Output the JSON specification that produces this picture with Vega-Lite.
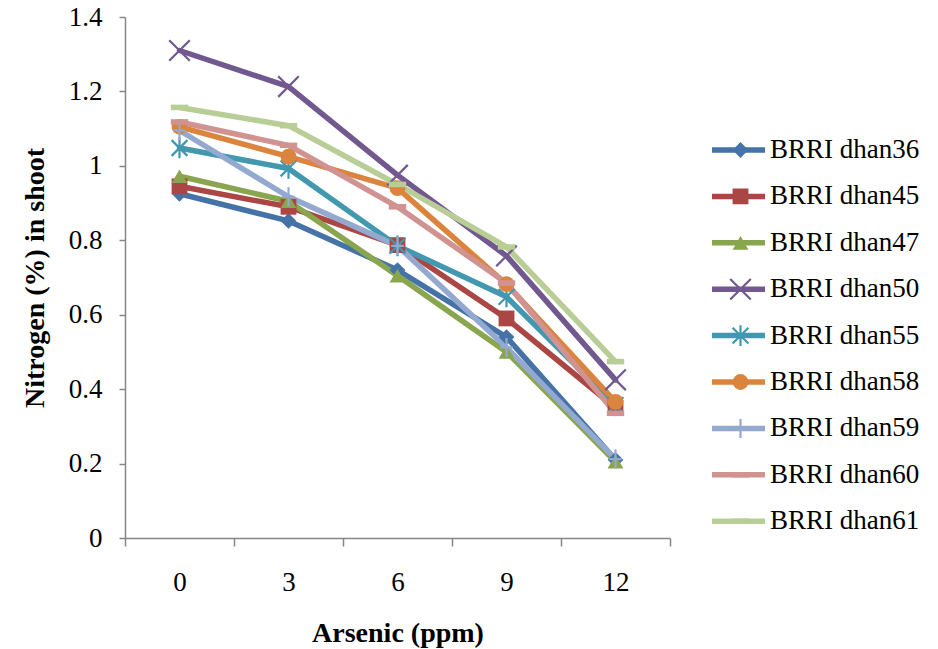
{
  "$schema": "https://vega.github.io/schema/vega-lite/v6.json",
  "autosize": {"type": "none"},
  "padding": {"left": 125, "top": 17, "right": 268, "bottom": 111},
  "width": 545,
  "height": 521,
  "background": "white",
  "config": {
    "view": {"stroke": null},
    "axis": {
      "grid": false,
      "domainColor": "#868686",
      "domainWidth": 1.5,
      "tickColor": "#868686",
      "tickWidth": 1.5,
      "labelFont": "Liberation Serif",
      "labelFontSize": 27,
      "labelColor": "black",
      "titleFont": "Liberation Serif",
      "titleFontSize": 28,
      "titleFontWeight": "bold",
      "titleColor": "black"
    }
  },
  "data": {
    "values": [
      {"variety": "BRRI dhan36", "arsenic": 0, "n": 0.925},
      {"variety": "BRRI dhan36", "arsenic": 3, "n": 0.852},
      {"variety": "BRRI dhan36", "arsenic": 6, "n": 0.72},
      {"variety": "BRRI dhan36", "arsenic": 9, "n": 0.54},
      {"variety": "BRRI dhan36", "arsenic": 12, "n": 0.21},
      {"variety": "BRRI dhan45", "arsenic": 0, "n": 0.945},
      {"variety": "BRRI dhan45", "arsenic": 3, "n": 0.89},
      {"variety": "BRRI dhan45", "arsenic": 6, "n": 0.787},
      {"variety": "BRRI dhan45", "arsenic": 9, "n": 0.59},
      {"variety": "BRRI dhan45", "arsenic": 12, "n": 0.35},
      {"variety": "BRRI dhan47", "arsenic": 0, "n": 0.972},
      {"variety": "BRRI dhan47", "arsenic": 3, "n": 0.905},
      {"variety": "BRRI dhan47", "arsenic": 6, "n": 0.705},
      {"variety": "BRRI dhan47", "arsenic": 9, "n": 0.5},
      {"variety": "BRRI dhan47", "arsenic": 12, "n": 0.205},
      {"variety": "BRRI dhan50", "arsenic": 0, "n": 1.31},
      {"variety": "BRRI dhan50", "arsenic": 3, "n": 1.213},
      {"variety": "BRRI dhan50", "arsenic": 6, "n": 0.975},
      {"variety": "BRRI dhan50", "arsenic": 9, "n": 0.758},
      {"variety": "BRRI dhan50", "arsenic": 12, "n": 0.425},
      {"variety": "BRRI dhan55", "arsenic": 0, "n": 1.048},
      {"variety": "BRRI dhan55", "arsenic": 3, "n": 0.993},
      {"variety": "BRRI dhan55", "arsenic": 6, "n": 0.785},
      {"variety": "BRRI dhan55", "arsenic": 9, "n": 0.648},
      {"variety": "BRRI dhan55", "arsenic": 12, "n": 0.357},
      {"variety": "BRRI dhan58", "arsenic": 0, "n": 1.105},
      {"variety": "BRRI dhan58", "arsenic": 3, "n": 1.025},
      {"variety": "BRRI dhan58", "arsenic": 6, "n": 0.94},
      {"variety": "BRRI dhan58", "arsenic": 9, "n": 0.682},
      {"variety": "BRRI dhan58", "arsenic": 12, "n": 0.366},
      {"variety": "BRRI dhan59", "arsenic": 0, "n": 1.095},
      {"variety": "BRRI dhan59", "arsenic": 3, "n": 0.917},
      {"variety": "BRRI dhan59", "arsenic": 6, "n": 0.785},
      {"variety": "BRRI dhan59", "arsenic": 9, "n": 0.512},
      {"variety": "BRRI dhan59", "arsenic": 12, "n": 0.212},
      {"variety": "BRRI dhan60", "arsenic": 0, "n": 1.118},
      {"variety": "BRRI dhan60", "arsenic": 3, "n": 1.055},
      {"variety": "BRRI dhan60", "arsenic": 6, "n": 0.89},
      {"variety": "BRRI dhan60", "arsenic": 9, "n": 0.685},
      {"variety": "BRRI dhan60", "arsenic": 12, "n": 0.335},
      {"variety": "BRRI dhan61", "arsenic": 0, "n": 1.157},
      {"variety": "BRRI dhan61", "arsenic": 3, "n": 1.108},
      {"variety": "BRRI dhan61", "arsenic": 6, "n": 0.95},
      {"variety": "BRRI dhan61", "arsenic": 9, "n": 0.782},
      {"variety": "BRRI dhan61", "arsenic": 12, "n": 0.474}
    ]
  },
  "encoding": {
    "x": {
      "field": "arsenic",
      "type": "ordinal",
      "sort": [0, 3, 6, 9, 12],
      "bandPosition": 0.5,
      "scale": {"type": "band", "paddingInner": 0, "paddingOuter": 0},
      "axis": {
        "title": "Arsenic (ppm)",
        "labelAngle": 0,
        "tickBand": "extent",
        "tickSize": 8,
        "labelPadding": 23,
        "titlePadding": 24
      }
    },
    "y": {
      "field": "n",
      "type": "quantitative",
      "scale": {"domain": [0, 1.4], "nice": false},
      "axis": {
        "title": "Nitrogen (%) in shoot",
        "values": [0, 0.2, 0.4, 0.6, 0.8, 1, 1.2, 1.4],
        "labelExpr": "'' + datum.value",
        "tickSize": 6,
        "labelPadding": 17,
        "titlePadding": 19
      }
    }
  },
  "layer": [
    {
      "mark": {"type": "line", "strokeWidth": 5.5, "strokeJoin": "round", "strokeCap": "round"},
      "encoding": {
        "stroke": {
          "field": "variety",
          "type": "nominal",
          "scale": {"range": ["#4573A7", "#AA4643", "#89A54E", "#71588F", "#4198AF", "#DB843D", "#93A9CF", "#D19392", "#B9CD96"]},
          "legend": {
            "orient": "none",
            "legendX": 584,
            "legendY": 118,
            "zindex": 0,
            "title": null,
            "padding": 0,
            "symbolType": "stroke",
            "symbolSize": 2809,
            "symbolStrokeWidth": 5.5,
            "labelFont": "Liberation Serif",
            "labelFontSize": 27,
            "labelColor": "black",
            "labelLimit": 400,
            "labelOffset": 2,
            "clipHeight": 30,
            "rowPadding": 16.4
          }
        }
      }
    },
    {
      "mark": {"type": "point", "filled": true, "opacity": 1, "size": 250},
      "encoding": {
        "color": {
          "field": "variety",
          "type": "nominal",
          "scale": {
            "domain": ["BRRI dhan36", "BRRI dhan45", "BRRI dhan47", "BRRI dhan50", "BRRI dhan55", "BRRI dhan58", "BRRI dhan59", "BRRI dhan60", "BRRI dhan61"],
            "range": ["#4573A7", "#AA4643", "#89A54E", "#71588F", "#4198AF", "#DB843D", "#93A9CF", "#D19392", "#B9CD96"]
          },
          "legend": {
            "orient": "none",
            "legendX": 602,
            "legendY": 118,
            "zindex": 1,
            "title": null,
            "padding": 0,
            "symbolSize": 250,
            "symbolStrokeWidth": 0,
            "symbolOpacity": 1,
            "labelExpr": "''",
            "labelFontSize": 27,
            "labelOffset": 3,
            "clipHeight": 30,
            "rowPadding": 16.4
          }
        },
        "shape": {
          "field": "variety",
          "type": "nominal",
          "scale": {
            "domain": ["BRRI dhan36", "BRRI dhan45", "BRRI dhan47", "BRRI dhan50", "BRRI dhan55", "BRRI dhan58", "BRRI dhan59", "BRRI dhan60", "BRRI dhan61"],
            "range": ["diamond", "square", "triangle-up", "M-1.2,-1.4L1.4,1.2L1.2,1.4L-1.4,-1.2ZM-1.4,1.2L1.2,-1.4L1.4,-1.2L-1.2,1.4Z", "M-0.9,-1.1L1.1,0.9L0.9,1.1L-1.1,-0.9ZM-1.1,0.9L0.9,-1.1L1.1,-0.9L-0.9,1.1ZM-0.14,-1.3L0.14,-1.3L0.14,1.3L-0.14,1.3Z", "circle", "M-0.14,-1.2L0.14,-1.2L0.14,1.2L-0.14,1.2ZM-0.8,-0.14L0.8,-0.14L0.8,0.14L-0.8,0.14Z", "M-1.1,-0.35L1.1,-0.35L1.1,0.35L-1.1,0.35Z", "M-1.1,-0.35L1.1,-0.35L1.1,0.35L-1.1,0.35Z"]
          },
          "legend": {
            "orient": "none",
            "legendX": 602,
            "legendY": 118,
            "zindex": 1,
            "title": null,
            "padding": 0,
            "symbolSize": 250,
            "symbolStrokeWidth": 0,
            "symbolOpacity": 1,
            "labelExpr": "''",
            "labelFontSize": 27,
            "labelOffset": 3,
            "clipHeight": 30,
            "rowPadding": 16.4
          }
        }
      }
    }
  ]
}
